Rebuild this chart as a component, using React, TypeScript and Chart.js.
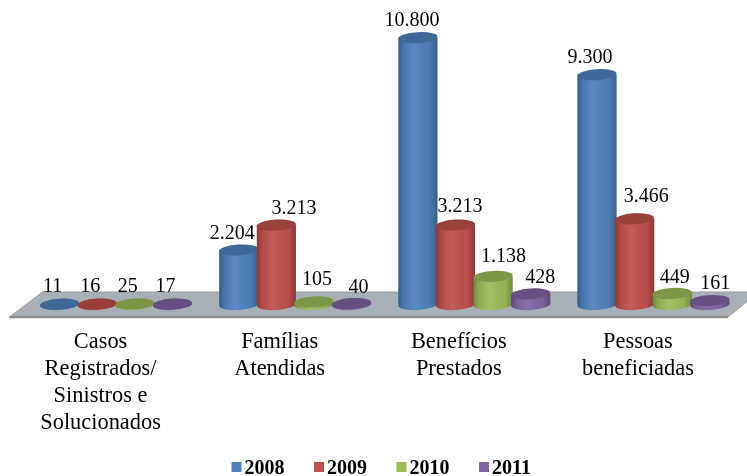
import React, { useEffect, useRef } from "react";
import { Chart, registerables } from "chart.js";

Chart.register(...registerables);

const categories = [
  ["Casos", "Registrados/", "Sinistros e", "Solucionados"],
  ["Famílias", "Atendidas"],
  ["Benefícios", "Prestados"],
  ["Pessoas", "beneficiadas"],
];
const seriesNames = ["2008", "2009", "2010", "2011"];
const values2008 = [11, 2204, 10800, 9300];
const values2009 = [16, 3213, 3213, 3466];
const values2010 = [25, 105, 1138, 449];
const values2011 = [17, 40, 428, 161];
const allValues = [values2008, values2009, values2010, values2011];
const seriesColors = ["#4f81bd", "#c0504d", "#9bbb59", "#8064a2"];

// Hand placement of the value labels relative to the top of each bar
const labelNudgeX = [[-7, -6.5, -6, -7], [-7, 17.5, 4.5, 11.5], [-7, 3, 10.5, 2.5], [-7, 7, 9.5, 5.5]];
const labelNudgeY = [[-17, -16, -17, -16.5], [-17, -16, -18, -22], [-17, -22, -19.5, -16], [-17, -16, -16.5, -16.5]];

const SERIF = "'Liberation Serif', 'Times New Roman', serif";
const TILT = (-3.5 * Math.PI) / 180;
const RY = 5.5;

const fmt = (v: number) => String(v).replace(/\B(?=(\d{3})+$)/g, ".");

const cylinderPlugin = {
  id: "cylinder",
  beforeDatasetsDraw(chart: any) {
    const { ctx } = chart;
    const y0 = chart.scales.y.getPixelForValue(0);
    const { left, right } = chart.chartArea;
    const fx = (v: number) => left + v;
    ctx.save();
    ctx.beginPath();
    ctx.moveTo(fx(16), y0 - 12.5);
    ctx.lineTo(right + 10, y0 - 12.5);
    ctx.lineTo(right + 10, y0 - 8);
    ctx.lineTo(right - 15, y0 + 12.5);
    ctx.lineTo(fx(-17), y0 + 12.5);
    ctx.closePath();
    ctx.fillStyle = "#a8b0b7";
    ctx.fill();
    ctx.lineWidth = 1;
    ctx.strokeStyle = "#9a9a9a";
    ctx.stroke();
    ctx.beginPath();
    ctx.moveTo(fx(-17), y0 + 12.5);
    ctx.lineTo(right - 15, y0 + 12.5);
    ctx.lineWidth = 2.5;
    ctx.strokeStyle = "#8c8c8c";
    ctx.stroke();
    ctx.restore();
  },
  // Bars are painted left to right in afterDatasetsDraw so each overlaps the previous one
  beforeDatasetDraw() {
    return false;
  },
  afterDatasetsDraw(chart: any) {
    const { ctx } = chart;
    chart.data.datasets.forEach((_: any, i: number) => {
      chart.getDatasetMeta(i).data.forEach((b: any) => {
        const rx = b.width / 2;
        const xl = b.x - rx;
        ctx.save();
        ctx.fillStyle = seriesColors[i];
        ctx.beginPath();
        ctx.ellipse(b.x, b.base, rx, RY, TILT, 0, Math.PI * 2);
        ctx.fill();
        ctx.restore();
        b.draw(ctx);
        const g = ctx.createLinearGradient(xl, 0, xl + b.width, 0);
        g.addColorStop(0, "rgba(0,0,0,0.3)");
        g.addColorStop(0.12, "rgba(0,0,0,0.1)");
        g.addColorStop(0.42, "rgba(255,255,255,0.07)");
        g.addColorStop(0.8, "rgba(0,0,0,0.04)");
        g.addColorStop(1, "rgba(0,0,0,0.28)");
        ctx.save();
        ctx.beginPath();
        ctx.rect(xl, b.y, b.width, b.base - b.y);
        ctx.ellipse(b.x, b.base, rx, RY, TILT, 0, Math.PI * 2);
        ctx.fillStyle = g;
        ctx.fill();
        ctx.beginPath();
        ctx.ellipse(b.x, b.y, rx, RY, TILT, 0, Math.PI * 2);
        ctx.fillStyle = seriesColors[i];
        ctx.fill();
        ctx.fillStyle = "rgba(0,0,0,0.2)";
        ctx.fill();
        ctx.restore();
      });
    });
  },
  afterDraw(chart: any) {
    const { ctx } = chart;
    ctx.save();
    ctx.fillStyle = "#000";
    ctx.font = `20px ${SERIF}`;
    ctx.textAlign = "center";
    ctx.textBaseline = "middle";
    chart.data.datasets.forEach((ds: any, i: number) => {
      chart.getDatasetMeta(i).data.forEach((b: any, j: number) => {
        ctx.fillText(fmt(ds.data[j]), b.x + labelNudgeX[i][j], b.y + labelNudgeY[i][j]);
      });
    });
    // legend
    ctx.font = `bold 20px ${SERIF}`;
    ctx.textAlign = "left";
    const step = 82.5;
    const startX = chart.width / 2 - 142;
    chart.data.datasets.forEach((ds: any, i: number) => {
      const x = startX + i * step;
      ctx.fillStyle = seriesColors[i];
      ctx.fillRect(x, 462, 10, 10);
      ctx.fillStyle = "#000";
      ctx.fillText(ds.label, x + 13, 468.5);
    });
    ctx.restore();
  },
};

export default function App() {
  const ref = useRef<HTMLCanvasElement>(null);
  useEffect(() => {
    const chart = new Chart(ref.current!, {
      type: "bar",
      data: {
        labels: categories as any,
        datasets: seriesNames.map((name, i) => ({
          label: name,
          data: allValues[i],
          backgroundColor: seriesColors[i],
          borderWidth: 0,
          categoryPercentage: 0.84,
          barPercentage: 1.04,
        })),
      },
      options: {
        responsive: false,
        animation: false,
        layout: { padding: { left: 26.5, right: 4, top: 8, bottom: 23.5 } },
        plugins: { legend: { display: false }, tooltip: { enabled: false }, title: { display: false } },
        scales: {
          x: {
            grid: { display: false },
            border: { display: false },
            ticks: {
              autoSkip: false,
              maxRotation: 0,
              minRotation: 0,
              padding: 16,
              labelOffset: -15.5,
              color: "#000",
              font: { family: SERIF, size: 22.4, lineHeight: 27 / 22.4 },
            },
          },
          y: { display: false, min: 0, max: 12000 },
        },
      },
      plugins: [cylinderPlugin],
    } as any);
    return () => chart.destroy();
  }, []);
  return (
    <div style={{ position: "absolute", left: 0, top: 0, width: 747, height: 476, background: "#fff" }}>
      <canvas ref={ref} width={747} height={476} style={{ display: "block" }} />
    </div>
  );
}
